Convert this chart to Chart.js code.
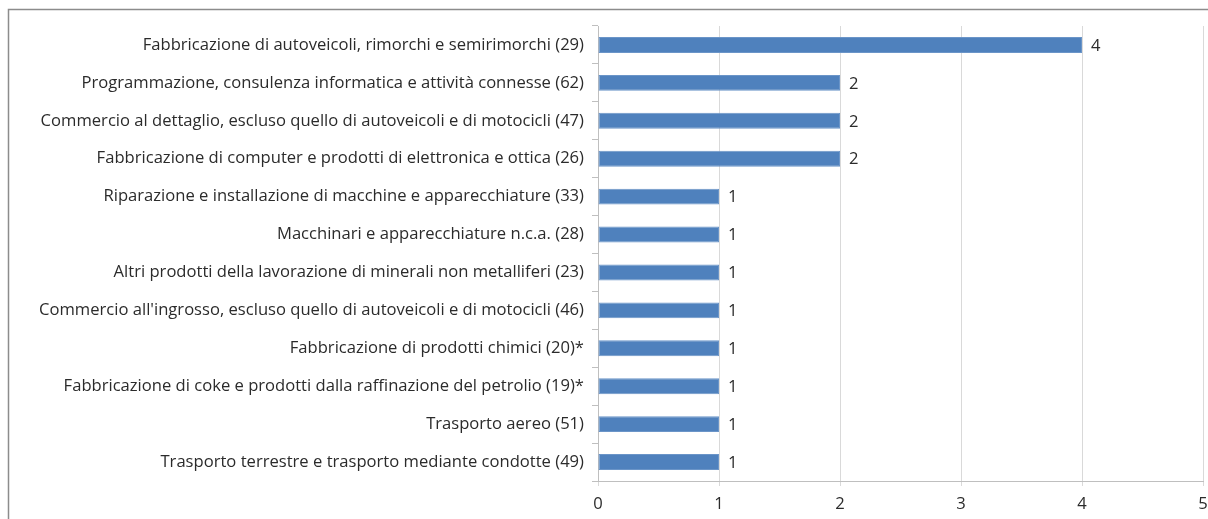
<!DOCTYPE html>
<html>
<head>
<meta charset="utf-8">
<script src="https://cdn.jsdelivr.net/npm/chart.js@4"></script>
<style>
    html, body { margin: 0; padding: 0; background: #fff; }
    #wrap { width: 1208px; height: 519px; position: relative; }
</style>
</head>
<body>
<div id="wrap"><canvas id="sectorChart" width="1208" height="519"></canvas></div>
<script>
const categories = [
    'Fabbricazione di autoveicoli, rimorchi e semirimorchi (29)',
    'Programmazione, consulenza informatica e attività connesse (62)',
    'Commercio al dettaglio, escluso quello di autoveicoli e di motocicli (47)',
    'Fabbricazione di computer e prodotti di elettronica e ottica (26)',
    'Riparazione e installazione di macchine e apparecchiature (33)',
    'Macchinari e apparecchiature n.c.a. (28)',
    'Altri prodotti della lavorazione di minerali non metalliferi (23)',
    "Commercio all'ingrosso, escluso quello di autoveicoli e di motocicli (46)",
    'Fabbricazione di prodotti chimici (20)*',
    'Fabbricazione di coke e prodotti dalla raffinazione del petrolio (19)*',
    'Trasporto aereo (51)',
    'Trasporto terrestre e trasporto mediante condotte (49)'
];
const counts = [4, 2, 2, 2, 1, 1, 1, 1, 1, 1, 1, 1];
const xTicks = [0, 1, 2, 3, 4, 5];

const FONT = '"Open Sans"';
const FONT_SIZE = 16.6;
const TEXT = '#2b2b2b';

// cornice grigia intorno al grafico
const framePlugin = {
    id: 'frame',
    beforeDraw(chart) {
        const ctx = chart.ctx;
        ctx.save();
        ctx.strokeStyle = '#8c8c8c';
        ctx.lineWidth = 1.5;
        ctx.strokeRect(8.5, 9.5, chart.width + 20, chart.height + 20);
        ctx.restore();
    }
};

// etichette con il valore a destra delle barre
const valueLabels = {
    id: 'valueLabels',
    afterDatasetsDraw(chart) {
        const ctx = chart.ctx;
        const meta = chart.getDatasetMeta(0);
        ctx.save();
        ctx.font = FONT_SIZE + 'px ' + FONT;
        ctx.fillStyle = TEXT;
        ctx.textAlign = 'left';
        ctx.textBaseline = 'middle';
        meta.data.forEach((bar, i) => {
            ctx.fillText(String(counts[i]), bar.x + 9, bar.y + 1);
        });
        ctx.restore();
    }
};

new Chart(document.getElementById('sectorChart'), {
    type: 'bar',
    data: {
        labels: categories,
        datasets: [{
            data: counts,
            backgroundColor: '#4f81bd',
            borderColor: '#6b95c8',
            borderWidth: 1,
            borderSkipped: false,
            barPercentage: 0.42,
            categoryPercentage: 1
        }]
    },
    options: {
        indexAxis: 'y',
        responsive: false,
        animation: false,
        layout: { padding: { top: 26, right: 5, left: 0, bottom: 0 } },
        plugins: {
            legend: { display: false },
            tooltip: { enabled: false }
        },
        scales: {
            x: {
                min: 0,
                max: 5,
                afterBuildTicks: s => { s.ticks = xTicks.map(v => ({ value: v })); },
                afterFit: s => { s.height = 38; s.paddingLeft = 0; s.paddingRight = 0; },
                border: { color: '#bfbfbf', width: 1 },
                grid: { color: '#d9d9d9', tickLength: 5, tickColor: '#d9d9d9' },
                ticks: { color: TEXT, font: { family: FONT, size: FONT_SIZE }, padding: 8, maxRotation: 0 }
            },
            y: {
                afterFit: s => { s.width = 598; },
                border: { color: '#bfbfbf', width: 1 },
                grid: { drawOnChartArea: false, offset: true, tickLength: 6, color: '#bfbfbf' },
                ticks: { color: TEXT, font: { family: FONT, size: FONT_SIZE }, padding: 8, autoSkip: false }
            }
        }
    },
    plugins: [framePlugin, valueLabels]
});
</script>
</body>
</html>
